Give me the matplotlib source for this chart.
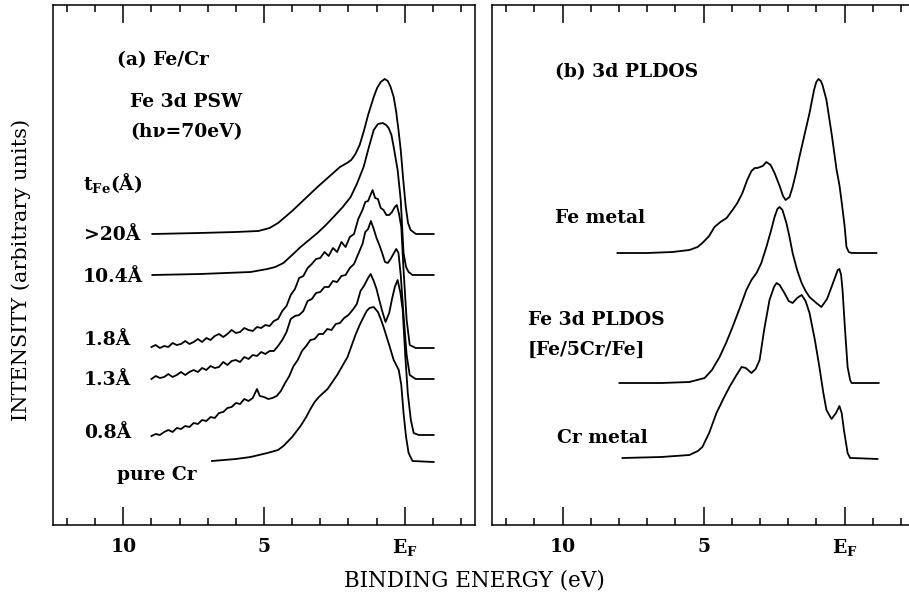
import matplotlib
matplotlib.use("Agg")
import matplotlib.pyplot as plt
from matplotlib.ticker import MultipleLocator

plt.rcParams['font.family'] = ['DejaVu Serif']
plt.rcParams['mathtext.fontset'] = 'dejavuserif'

# ---- panel (a): Fe 3d PSW spectra, binding energy (eV) vs intensity (arb.)
e_20 = [8.97, 7.3, 6.0, 5.2, 4.8, 4.5, 4.25, 4.0, 3.7, 3.4, 3.1, 2.7, 2.3,
        2.05, 1.9, 1.75, 1.6, 1.45, 1.3, 1.1, 0.98, 0.85, 0.71, 0.6, 0.5, 0.39,
        0.3, 0.22, 0.14, 0.05, -0.04, -0.12, -0.21, -0.4, -1.03]
i_20 = [291, 292, 293, 294, 297, 302, 308, 314, 322, 330, 338, 348, 358,
        362, 365, 371, 380, 394, 410, 428, 437, 443, 446, 444, 438, 428,
        413, 395, 375, 345, 318, 302, 295, 291, 291]

e_104 = [8.97, 7.26, 5.48, 4.88, 4.6, 4.31, 4.0, 3.7, 3.4, 3.1, 2.8, 2.53,
         2.2, 1.92, 1.7, 1.46, 1.28, 1.1, 0.95, 0.78, 0.66, 0.57, 0.47, 0.39,
         0.25, 0.14, 0.04, -0.05, -0.14, -0.28, -1.03]
i_104 = [250, 251, 253, 256, 258, 262, 270, 278, 285, 292, 300, 308,
         318, 328, 341, 358, 377, 395, 401, 402, 400, 397, 390, 378,
         355, 325, 272, 258, 253, 250, 250]

e_18 = [9.0, 8.85, 8.7, 8.55, 8.4, 8.25, 8.1, 7.95, 7.8, 7.65, 7.5, 7.35, 7.2,
        7.05, 6.9, 6.75, 6.6, 6.45, 6.3, 6.15, 6.0, 5.85, 5.7, 5.55, 5.4, 5.25,
        5.1, 4.95, 4.8, 4.65, 4.5, 4.35, 4.2, 4.05, 3.9, 3.75, 3.6, 3.45, 3.3,
        3.15, 3.0, 2.85, 2.7, 2.55, 2.4, 2.25, 2.1, 1.95, 1.8, 1.65, 1.5, 1.4,
        1.3, 1.2, 1.14, 1.05, 0.95, 0.85, 0.75, 0.65, 0.55, 0.45, 0.35, 0.28,
        0.2, 0.12, 0.04, -0.07, -0.18, -0.39, -1.03]
i_18 = [178, 180, 177, 179, 178, 182, 180, 181, 184, 181, 183, 186, 183,
        187, 185, 189, 191, 188, 191, 195, 192, 193, 197, 195, 194, 198,
        197, 200, 199, 204, 206, 214, 219, 230, 236, 247, 249, 257, 261,
        266, 267, 273, 269, 277, 273, 283, 278, 288, 291, 306, 315, 323,
        324, 331, 335, 327, 326, 317, 315, 310, 310, 313, 318, 320,
        311, 298, 255, 205, 180, 177, 177]

e_13 = [9.0, 8.85, 8.7, 8.55, 8.4, 8.25, 8.1, 7.95, 7.8, 7.65, 7.5, 7.35, 7.2,
        7.05, 6.9, 6.75, 6.6, 6.45, 6.3, 6.15, 6.0, 5.85, 5.7, 5.55, 5.4, 5.25,
        5.1, 4.95, 4.8, 4.65, 4.5, 4.35, 4.2, 4.05, 3.9, 3.75, 3.6, 3.45, 3.3,
        3.15, 3.0, 2.85, 2.7, 2.55, 2.4, 2.25, 2.1, 1.95, 1.8, 1.65, 1.5, 1.4,
        1.3, 1.2, 1.1, 1.0, 0.9, 0.8, 0.7, 0.6, 0.5, 0.4, 0.3, 0.22, 0.14,
        0.04, -0.07, -0.18, -0.39, -1.03]
i_13 = [146, 149, 147, 148, 151, 148, 150, 153, 150, 153, 155, 153, 157,
        155, 159, 157, 158, 163, 160, 164, 165, 163, 168, 166, 170, 169,
        173, 171, 174, 174, 179, 185, 193, 206, 209, 210, 214, 224, 226,
        232, 233, 238, 238, 244, 243, 249, 250, 257, 261, 271, 281, 293,
        296, 304, 296, 287, 280, 272, 263, 262, 266, 271, 276, 272, 250,
        210, 170, 150, 146, 146]

e_08 = [9.0, 8.85, 8.7, 8.55, 8.4, 8.25, 8.1, 7.95, 7.8, 7.65, 7.5, 7.35, 7.2,
        7.05, 6.9, 6.75, 6.6, 6.45, 6.3, 6.15, 6.0, 5.85, 5.7, 5.55, 5.4, 5.25,
        5.15, 5.0, 4.85, 4.7, 4.55, 4.4, 4.25, 4.1, 3.95, 3.8, 3.65, 3.5, 3.35,
        3.2, 3.05, 2.9, 2.75, 2.6, 2.45, 2.3, 2.15, 2.0, 1.85, 1.7, 1.57, 1.45,
        1.3, 1.21, 1.1, 1.0, 0.93, 0.8, 0.68, 0.55, 0.45, 0.35, 0.25, 0.15,
        0.07, -0.02, -0.11, -0.22, -0.32, -0.5, -1.03]
i_08 = [89, 91, 90, 93, 95, 93, 97, 96, 99, 98, 102, 101, 105,
        104, 108, 107, 112, 113, 117, 118, 122, 121, 126, 124, 127, 136,
        129, 128, 126, 127, 129, 134, 142, 149, 159, 165, 174, 179, 185,
        186, 191, 191, 196, 195, 201, 202, 207, 210, 215, 221, 234, 239,
        247, 251, 244, 236, 228, 214, 203, 212, 226, 238, 245, 232,
        215, 170, 132, 105, 92, 90, 90]

e_cr = [6.85, 6.0, 5.48, 4.88, 4.5, 4.31, 4.0, 3.7, 3.5, 3.35, 3.2, 3.05,
        2.74, 2.4, 2.03, 1.75, 1.6, 1.46, 1.35, 1.25, 1.1, 0.95, 0.85, 0.75,
        0.55, 0.39, 0.28, 0.21, 0.12, 0.04, -0.05, -0.14, -0.28, -1.03]
i_cr = [64, 66, 68, 72, 75, 79, 88, 99, 108, 116, 123, 128,
        136, 150, 168, 190, 200, 208, 214, 217, 218, 213, 206, 198,
        180, 165, 159, 155, 140, 112, 88, 72, 64, 63]

# ---- panel (b): calculated 3d PLDOS
e_fe = [8.05, 7.0, 6.1, 5.5, 5.21, 5.04, 4.8, 4.61, 4.4, 4.18, 3.97, 3.8, 3.62,
        3.45, 3.3, 3.18, 3.09, 2.9, 2.77, 2.62, 2.48, 2.3, 2.18, 2.09, 1.95,
        1.84, 1.72, 1.6, 1.42, 1.24, 1.08, 1.0, 0.92, 0.84, 0.78, 0.64, 0.45,
        0.28, 0.18, 0.11, 0.0, -0.07, -0.15, -0.25, -1.13]
i_fe = [272, 272, 273, 275, 278, 282, 289, 298, 303, 307, 315, 322, 332,
        345, 354, 357, 357, 359, 363, 360, 352, 339, 329, 325, 328,
        338, 352, 368, 390, 412, 435, 443, 446, 444, 440, 425, 390,
        355, 340, 325, 300, 278, 273, 272, 272]

e_pl = [7.98, 6.5, 5.5, 4.96, 4.7, 4.43, 4.2, 3.97, 3.7, 3.48, 3.3, 3.12,
        2.95, 2.77, 2.6, 2.48, 2.38, 2.3, 2.2, 2.06, 1.95, 1.84, 1.68, 1.52,
        1.38, 1.24, 1.0, 0.82, 0.62, 0.46, 0.33, 0.24, 0.18, 0.12, 0.07,
        -0.02, -0.11, -0.2, -0.25, -1.21]
i_pl = [142, 142, 143, 147, 155, 168, 182, 198, 218, 235, 245, 252,
        262, 278, 295, 308, 316, 318, 315, 302, 288, 272, 255, 242,
        234, 228, 222, 218, 226, 238, 248, 255, 256, 250, 235,
        195, 158, 145, 142, 142]

e_crm = [7.87, 6.5, 5.5, 5.2, 5.04, 4.8, 4.54, 4.3, 4.08, 3.85, 3.65, 3.5,
         3.3, 3.15, 3.01, 2.85, 2.66, 2.5, 2.41, 2.3, 2.13, 1.98, 1.84, 1.68,
         1.52, 1.38, 1.24, 1.05, 0.89, 0.75, 0.64, 0.46, 0.3, 0.18, 0.1, 0.02,
         -0.11, -0.2, -0.28, -1.17]
i_crm = [67, 68, 70, 74, 78, 92, 112, 126, 138, 149, 158, 157,
         152, 156, 165, 195, 225, 238, 242, 240, 232, 224, 222, 227,
         230, 224, 212, 185, 158, 132, 115, 106, 112, 119, 112, 95,
         72, 67, 67, 66]

fig = plt.figure(figsize=(9.09, 5.94), dpi=100)
ax1 = fig.add_axes([53 / 909, 69 / 594, 422 / 909, 520 / 594])
ax2 = fig.add_axes([492 / 909, 69 / 594, 423 / 909, 520 / 594])

for ax in (ax1, ax2):
    ax.set_xlim(12.5, -2.5)
    ax.set_ylim(0, 520)
    ax.xaxis.set_minor_locator(MultipleLocator(1))
    ax.set_xticks([10, 5, 0])
    ax.set_xticklabels(['10', '5', r'$\mathbf{E_F}$'], fontweight='bold')
    ax.tick_params(axis='x', which='both', direction='in', top=True,
                   bottom=True, width=1.1, labelsize=13.5, pad=9)
    ax.tick_params(axis='x', which='major', length=13)
    ax.tick_params(axis='x', which='minor', length=5)
    ax.set_yticks([])
    for s in ax.spines.values():
        s.set_linewidth(1.1)

lw = 1.3
for e, i in [(e_20, i_20), (e_104, i_104), (e_18, i_18), (e_13, i_13),
             (e_08, i_08), (e_cr, i_cr)]:
    ax1.plot(e, i, color='black', lw=lw)

for e, i in [(e_fe, i_fe), (e_pl, i_pl), (e_crm, i_crm)]:
    ax2.plot(e, i, color='black', lw=lw)

fs = 13.5
kw = dict(fontsize=fs, va='center', fontweight='bold')
ax1.text(10.21, 465, '(a) Fe/Cr', **kw)
ax1.text(9.75, 423, 'Fe 3d PSW', **kw)
ax1.text(9.75, 393, '(h\u03bd=70eV)', **kw)
ax1.text(11.42, 342, r't$_{\mathbf{Fe}}$(Å)', **kw)
ax1.text(9.4, 290, '>20Å', ha='right', **kw)
ax1.text(9.32, 248, '10.4Å', ha='right', **kw)
ax1.text(9.72, 185, '1.8Å', ha='right', **kw)
ax1.text(9.72, 145, '1.3Å', ha='right', **kw)
ax1.text(9.72, 92, '0.8Å', ha='right', **kw)
ax1.text(10.21, 50, 'pure Cr', **kw)

ax2.text(10.28, 453, '(b) 3d PLDOS', **kw)
ax2.text(10.25, 307, 'Fe metal', **kw)
ax2.text(11.24, 205, 'Fe 3d PLDOS', **kw)
ax2.text(11.24, 175, '[Fe/5Cr/Fe]', **kw)
ax2.text(10.21, 87, 'Cr metal', **kw)

fig.text(474 / 909, 1 - 580 / 594, 'BINDING ENERGY (eV)', fontsize=15.5,
         ha='center', va='center')
fig.text(21 / 909, 1 - 270 / 594, 'INTENSITY (arbitrary units)', fontsize=15,
         ha='center', va='center', rotation=90)

fig.savefig('out.png', dpi=100)
